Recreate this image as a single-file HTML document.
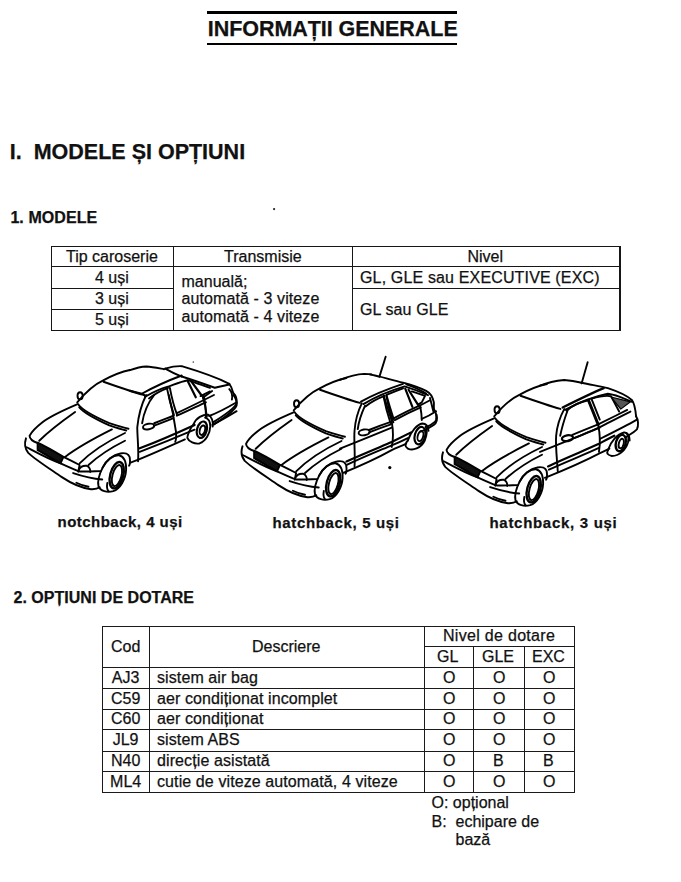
<!DOCTYPE html>
<html><head><meta charset="utf-8"><style>
html,body{margin:0;padding:0;background:#fff;}
body{width:681px;height:882px;position:relative;overflow:hidden;font-family:"Liberation Sans",sans-serif;color:#111;}
.t{position:absolute;white-space:nowrap;-webkit-text-stroke:0.25px #111;}
.l{position:absolute;}
svg.cars{position:absolute;left:0;top:0;}
</style></head><body>
<div class="l" style="left:206.80px;top:11.00px;width:250.70px;height:2.6px;background:#000"></div>
<div class="l" style="left:206.80px;top:42.60px;width:250.70px;height:2.6px;background:#000"></div>
<div class="t" style="left:207.80px;top:18.60px;font-size:21.5px;line-height:21.5px;font-weight:bold;letter-spacing:-0.05px;">INFORMAȚII GENERALE</div>
<div class="t" style="left:9.80px;top:142.40px;font-size:21.5px;line-height:21.5px;font-weight:bold;letter-spacing:0px;">I.&nbsp;&nbsp;MODELE ȘI OPȚIUNI</div>
<div class="t" style="left:10.40px;top:210.46px;font-size:16px;line-height:16px;font-weight:bold;letter-spacing:0.08px;">1. MODELE</div>
<div class="l" style="left:51.00px;top:246.00px;width:569.50px;height:1.2px;background:#161616"></div>
<div class="l" style="left:51.00px;top:266.00px;width:569.50px;height:1.2px;background:#161616"></div>
<div class="l" style="left:51.00px;top:288.00px;width:123.00px;height:1.2px;background:#161616"></div>
<div class="l" style="left:352.50px;top:288.20px;width:268.00px;height:1.2px;background:#161616"></div>
<div class="l" style="left:51.00px;top:309.30px;width:123.00px;height:1.2px;background:#161616"></div>
<div class="l" style="left:51.00px;top:329.60px;width:569.50px;height:1.4px;background:#161616"></div>
<div class="l" style="left:51.00px;top:246.00px;width:1.3px;height:84.50px;background:#161616"></div>
<div class="l" style="left:173.30px;top:246.00px;width:1.2px;height:84.50px;background:#161616"></div>
<div class="l" style="left:352.00px;top:246.00px;width:1.2px;height:84.50px;background:#161616"></div>
<div class="l" style="left:619.30px;top:246.00px;width:1.3px;height:84.50px;background:#161616"></div>
<div class="t" style="left:66.00px;top:248.56px;font-size:16px;line-height:16px;font-weight:normal;letter-spacing:0px;">Tip caroserie</div>
<div class="t" style="left:224.00px;top:248.56px;font-size:16px;line-height:16px;font-weight:normal;letter-spacing:0px;">Transmisie</div>
<div class="t" style="left:467.50px;top:248.56px;font-size:16px;line-height:16px;font-weight:normal;letter-spacing:0px;">Nivel</div>
<div class="t" style="left:95.00px;top:269.76px;font-size:16px;line-height:16px;font-weight:normal;letter-spacing:0px;">4 uși</div>
<div class="t" style="left:95.00px;top:290.76px;font-size:16px;line-height:16px;font-weight:normal;letter-spacing:0px;">3 uși</div>
<div class="t" style="left:95.00px;top:312.26px;font-size:16px;line-height:16px;font-weight:normal;letter-spacing:0px;">5 uși</div>
<div class="t" style="left:181.50px;top:273.66px;font-size:16px;line-height:16px;font-weight:normal;letter-spacing:0px;">manuală;</div>
<div class="t" style="left:181.50px;top:291.46px;font-size:16px;line-height:16px;font-weight:normal;letter-spacing:0.1px;">automată - 3 viteze</div>
<div class="t" style="left:181.50px;top:309.16px;font-size:16px;line-height:16px;font-weight:normal;letter-spacing:0.1px;">automată - 4 viteze</div>
<div class="t" style="left:360.00px;top:269.96px;font-size:16px;line-height:16px;font-weight:normal;letter-spacing:0.15px;">GL, GLE sau EXECUTIVE (EXC)</div>
<div class="t" style="left:360.00px;top:302.06px;font-size:16px;line-height:16px;font-weight:normal;letter-spacing:0.1px;">GL sau GLE</div>
<div class="t" style="left:57.50px;top:513.90px;font-size:15px;line-height:15px;font-weight:bold;letter-spacing:0.48px;">notchback, 4 uși</div>
<div class="t" style="left:272.50px;top:514.60px;font-size:15px;line-height:15px;font-weight:bold;letter-spacing:0.65px;">hatchback, 5 uși</div>
<div class="t" style="left:489.50px;top:514.60px;font-size:15px;line-height:15px;font-weight:bold;letter-spacing:0.7px;">hatchback, 3 uși</div>
<div class="t" style="left:13.50px;top:590.46px;font-size:16px;line-height:16px;font-weight:bold;letter-spacing:0.02px;">2. OPȚIUNI DE DOTARE</div>
<div class="l" style="left:101.50px;top:625.50px;width:473.00px;height:1.2px;background:#1a1a1a"></div>
<div class="l" style="left:423.80px;top:646.00px;width:150.70px;height:1.2px;background:#1a1a1a"></div>
<div class="l" style="left:101.50px;top:666.50px;width:473.00px;height:1.2px;background:#1a1a1a"></div>
<div class="l" style="left:101.50px;top:687.50px;width:473.00px;height:1.2px;background:#1a1a1a"></div>
<div class="l" style="left:101.50px;top:708.50px;width:473.00px;height:1.2px;background:#1a1a1a"></div>
<div class="l" style="left:101.50px;top:729.30px;width:473.00px;height:1.2px;background:#1a1a1a"></div>
<div class="l" style="left:101.50px;top:750.50px;width:473.00px;height:1.2px;background:#1a1a1a"></div>
<div class="l" style="left:101.50px;top:771.30px;width:473.00px;height:1.2px;background:#1a1a1a"></div>
<div class="l" style="left:101.50px;top:791.50px;width:473.00px;height:1.3px;background:#1a1a1a"></div>
<div class="l" style="left:101.50px;top:625.50px;width:1.2px;height:167.00px;background:#1a1a1a"></div>
<div class="l" style="left:148.50px;top:625.50px;width:1.2px;height:167.00px;background:#1a1a1a"></div>
<div class="l" style="left:423.50px;top:625.50px;width:1.2px;height:167.00px;background:#1a1a1a"></div>
<div class="l" style="left:473.30px;top:646.00px;width:1.2px;height:146.50px;background:#1a1a1a"></div>
<div class="l" style="left:523.50px;top:646.00px;width:1.2px;height:146.50px;background:#1a1a1a"></div>
<div class="l" style="left:573.70px;top:625.50px;width:1.2px;height:167.00px;background:#1a1a1a"></div>
<div class="t" style="left:111.00px;top:638.76px;font-size:16px;line-height:16px;font-weight:normal;letter-spacing:0px;">Cod</div>
<div class="t" style="left:252.00px;top:638.76px;font-size:16px;line-height:16px;font-weight:normal;letter-spacing:0px;">Descriere</div>
<div class="t" style="left:443.00px;top:628.46px;font-size:16px;line-height:16px;font-weight:normal;letter-spacing:0.3px;">Nivel de dotare</div>
<div class="t" style="left:437.00px;top:648.76px;font-size:16px;line-height:16px;font-weight:normal;letter-spacing:0px;">GL</div>
<div class="t" style="left:482.00px;top:648.76px;font-size:16px;line-height:16px;font-weight:normal;letter-spacing:0px;">GLE</div>
<div class="t" style="left:532.00px;top:648.76px;font-size:16px;line-height:16px;font-weight:normal;letter-spacing:0px;">EXC</div>
<div class="t" style="left:-74.40px;width:400px;text-align:center;top:669.76px;font-size:16px;line-height:16px;font-weight:normal;letter-spacing:0px;">AJ3</div>
<div class="t" style="left:157.00px;top:669.76px;font-size:16px;line-height:16px;font-weight:normal;letter-spacing:0.1px;">sistem air bag</div>
<div class="t" style="left:443.00px;top:669.76px;font-size:16px;line-height:16px;font-weight:normal;letter-spacing:0px;">O</div>
<div class="t" style="left:493.00px;top:669.76px;font-size:16px;line-height:16px;font-weight:normal;letter-spacing:0px;">O</div>
<div class="t" style="left:543.00px;top:669.76px;font-size:16px;line-height:16px;font-weight:normal;letter-spacing:0px;">O</div>
<div class="t" style="left:-74.40px;width:400px;text-align:center;top:690.62px;font-size:16px;line-height:16px;font-weight:normal;letter-spacing:0px;">C59</div>
<div class="t" style="left:157.00px;top:690.62px;font-size:16px;line-height:16px;font-weight:normal;letter-spacing:0.1px;">aer condiționat incomplet</div>
<div class="t" style="left:443.00px;top:690.62px;font-size:16px;line-height:16px;font-weight:normal;letter-spacing:0px;">O</div>
<div class="t" style="left:493.00px;top:690.62px;font-size:16px;line-height:16px;font-weight:normal;letter-spacing:0px;">O</div>
<div class="t" style="left:543.00px;top:690.62px;font-size:16px;line-height:16px;font-weight:normal;letter-spacing:0px;">O</div>
<div class="t" style="left:-74.40px;width:400px;text-align:center;top:711.48px;font-size:16px;line-height:16px;font-weight:normal;letter-spacing:0px;">C60</div>
<div class="t" style="left:157.00px;top:711.48px;font-size:16px;line-height:16px;font-weight:normal;letter-spacing:0.1px;">aer condiționat</div>
<div class="t" style="left:443.00px;top:711.48px;font-size:16px;line-height:16px;font-weight:normal;letter-spacing:0px;">O</div>
<div class="t" style="left:493.00px;top:711.48px;font-size:16px;line-height:16px;font-weight:normal;letter-spacing:0px;">O</div>
<div class="t" style="left:543.00px;top:711.48px;font-size:16px;line-height:16px;font-weight:normal;letter-spacing:0px;">O</div>
<div class="t" style="left:-74.40px;width:400px;text-align:center;top:732.34px;font-size:16px;line-height:16px;font-weight:normal;letter-spacing:0px;">JL9</div>
<div class="t" style="left:157.00px;top:732.34px;font-size:16px;line-height:16px;font-weight:normal;letter-spacing:0.1px;">sistem ABS</div>
<div class="t" style="left:443.00px;top:732.34px;font-size:16px;line-height:16px;font-weight:normal;letter-spacing:0px;">O</div>
<div class="t" style="left:493.00px;top:732.34px;font-size:16px;line-height:16px;font-weight:normal;letter-spacing:0px;">O</div>
<div class="t" style="left:543.00px;top:732.34px;font-size:16px;line-height:16px;font-weight:normal;letter-spacing:0px;">O</div>
<div class="t" style="left:-74.40px;width:400px;text-align:center;top:753.20px;font-size:16px;line-height:16px;font-weight:normal;letter-spacing:0px;">N40</div>
<div class="t" style="left:157.00px;top:753.20px;font-size:16px;line-height:16px;font-weight:normal;letter-spacing:0.1px;">direcție asistată</div>
<div class="t" style="left:443.00px;top:753.20px;font-size:16px;line-height:16px;font-weight:normal;letter-spacing:0px;">O</div>
<div class="t" style="left:493.00px;top:753.20px;font-size:16px;line-height:16px;font-weight:normal;letter-spacing:0px;">B</div>
<div class="t" style="left:543.00px;top:753.20px;font-size:16px;line-height:16px;font-weight:normal;letter-spacing:0px;">B</div>
<div class="t" style="left:-74.40px;width:400px;text-align:center;top:774.06px;font-size:16px;line-height:16px;font-weight:normal;letter-spacing:0px;">ML4</div>
<div class="t" style="left:157.00px;top:774.06px;font-size:16px;line-height:16px;font-weight:normal;letter-spacing:0.1px;">cutie de viteze automată, 4 viteze</div>
<div class="t" style="left:443.00px;top:774.06px;font-size:16px;line-height:16px;font-weight:normal;letter-spacing:0px;">O</div>
<div class="t" style="left:493.00px;top:774.06px;font-size:16px;line-height:16px;font-weight:normal;letter-spacing:0px;">O</div>
<div class="t" style="left:543.00px;top:774.06px;font-size:16px;line-height:16px;font-weight:normal;letter-spacing:0px;">O</div>
<div class="t" style="left:431.50px;top:795.26px;font-size:16px;line-height:16px;font-weight:normal;letter-spacing:0px;">O: opțional</div>
<div class="t" style="left:431.50px;top:813.86px;font-size:16px;line-height:16px;font-weight:normal;letter-spacing:0px;">B:&nbsp;&nbsp;echipare de</div>
<div class="t" style="left:455.50px;top:831.66px;font-size:16px;line-height:16px;font-weight:normal;letter-spacing:0px;">bază</div>
<svg class="cars" width="681" height="882" viewBox="0 0 681 882" fill="none" stroke="#000" stroke-width="1.9" stroke-linecap="round" stroke-linejoin="round">
<!-- car1 A: zoom [15,360,125,500] s=6.1909 -->
<g transform="translate(15,360) scale(0.16153)">
<ellipse vector-effect="non-scaling-stroke" cx="403" cy="222" rx="16" ry="22"/>
<path vector-effect="non-scaling-stroke" d="M384,274 C300,310 220,345 170,385 C125,420 100,448 90,470 C92,492 112,505 140,514"/>
<path vector-effect="non-scaling-stroke" d="M68,485 C58,515 62,550 82,575 C130,620 210,670 290,725 C350,765 410,792 470,800 C500,802 515,795 525,788"/>
<path vector-effect="non-scaling-stroke" d="M372,322 C290,380 200,450 150,500"/>
<path vector-effect="non-scaling-stroke" d="M600,430 C500,480 390,540 310,600"/>
<path vector-effect="non-scaling-stroke" d="M681,452 C580,500 470,570 400,640"/>
<path vector-effect="non-scaling-stroke" d="M681,500 C590,545 510,600 455,650"/>
<path vector-effect="non-scaling-stroke" d="M140,512 C200,540 250,570 300,600 L282,640 C230,610 180,580 140,558 Z" fill="#111"/>
<path vector-effect="non-scaling-stroke" d="M72,540 C120,565 200,610 282,640 C330,662 370,680 400,690 C440,692 470,690 530,688"/>
<path vector-effect="non-scaling-stroke" d="M300,600 C330,615 370,635 400,650 L392,690"/>
<path vector-effect="non-scaling-stroke" d="M392,690 C395,665 420,652 445,655 C460,660 468,680 466,693"/>
<path vector-effect="non-scaling-stroke" d="M360,700 C420,720 480,735 540,740"/>
<path vector-effect="non-scaling-stroke" d="M380,760 C400,770 430,780 455,785"/>
</g>
<!-- car1 M: zoom [80,360,180,440] s=6.81 -->
<g transform="translate(80,360) scale(0.14684)">
<path vector-effect="non-scaling-stroke" d="M-19,288 C30,230 100,165 155,140 C220,105 280,80 340,68"/>
<path vector-effect="non-scaling-stroke" d="M160,148 C250,180 350,215 432,238"/>
<path vector-effect="non-scaling-stroke" d="M-14,300 C10,335 60,370 200,430 C260,450 300,462 330,468"/>
<path vector-effect="non-scaling-stroke" d="M-5,322 C20,352 80,390 200,445 C250,462 290,474 315,480"/>
<path vector-effect="non-scaling-stroke" d="M470,262 C510,230 560,205 600,190"/>
<path vector-effect="non-scaling-stroke" d="M592,192 C605,260 625,330 640,375"/>
<path vector-effect="non-scaling-stroke" d="M612,190 C625,260 645,330 660,370"/>
</g>
<!-- car1 Z: zoom [130,362,210,402] s=8.5125 -->
<g transform="translate(130,362) scale(0.11747)">
<path vector-effect="non-scaling-stroke" d="M0,70 C40,55 90,40 140,38 C190,40 240,52 290,62"/>
<path vector-effect="non-scaling-stroke" d="M100,270 C200,215 320,160 440,115"/>
<path vector-effect="non-scaling-stroke" d="M130,295 C200,255 270,225 330,208 C380,190 440,165 490,155 C550,175 620,200 681,220"/>
<path vector-effect="non-scaling-stroke" d="M0,245 L100,270 C115,275 130,285 130,295"/>
<path vector-effect="non-scaling-stroke" d="M490,160 L560,300" stroke-width="2.2"/>
<path vector-effect="non-scaling-stroke" d="M520,162 L610,285" stroke-width="2.2"/>
<path vector-effect="non-scaling-stroke" d="M600,290 L681,250"/>
</g>
<!-- car1 T: zoom [150,360,240,430] s=7.567 -->
<g transform="translate(150,360) scale(0.13216)">
<path vector-effect="non-scaling-stroke" d="M115,65 C150,55 200,45 240,47 C350,80 500,130 600,180"/>
<path vector-effect="non-scaling-stroke" d="M115,65 C150,85 200,110 240,125"/>
<path vector-effect="non-scaling-stroke" d="M240,125 C320,150 420,185 490,210 L600,185"/>
<path vector-effect="non-scaling-stroke" d="M600,180 C615,200 625,230 630,250 C650,270 660,300 655,330 C640,360 560,420 480,470"/>
<path vector-effect="non-scaling-stroke" d="M600,220 C620,240 625,270 620,300"/>
<path vector-effect="non-scaling-stroke" d="M470,235 L400,285"/>
<path vector-effect="non-scaling-stroke" d="M400,280 C415,330 425,380 430,430"/>
</g>
<!-- car1 L: zoom [130,395,240,475] s=6.19 -->
<g transform="translate(130,395) scale(0.16153)">
<path vector-effect="non-scaling-stroke" d="M100,0 C70,60 50,150 45,200 C45,260 55,330 50,410"/>
<path vector-effect="non-scaling-stroke" d="M150,0 C110,50 85,110 75,175"/>
<ellipse vector-effect="non-scaling-stroke" cx="115" cy="195" rx="35" ry="17" transform="rotate(-10 115 195)"/>
<path vector-effect="non-scaling-stroke" d="M150,175 C200,155 240,140 265,130" stroke-width="2"/>
<path vector-effect="non-scaling-stroke" d="M290,112 C380,70 450,35 520,0"/>
<path vector-effect="non-scaling-stroke" d="M150,190 C200,170 240,155 265,145"/>
<path vector-effect="non-scaling-stroke" d="M290,128 C380,88 430,62 470,45"/>
<path vector-effect="non-scaling-stroke" d="M240,0 C255,60 270,120 285,230 C287,260 285,280 280,290"/>
<path vector-effect="non-scaling-stroke" d="M455,0 C465,40 470,90 470,140"/>
<path vector-effect="non-scaling-stroke" d="M60,330 C150,295 280,240 400,185" stroke-width="2.2"/>
<path vector-effect="non-scaling-stroke" d="M60,352 C150,318 290,262 400,215"/>
<path vector-effect="non-scaling-stroke" d="M0,420 C60,400 150,360 340,275"/>
<path vector-effect="non-scaling-stroke" d="M490,130 C530,115 600,80 660,45"/>
<path vector-effect="non-scaling-stroke" d="M510,185 C560,160 610,130 660,100"/>
<path vector-effect="non-scaling-stroke" d="M640,0 C655,20 662,45 660,65 C650,90 620,115 520,182"/>
<path vector-effect="non-scaling-stroke" d="M395,178 C410,140 450,120 485,122 C505,135 515,165 512,195"/>
<path vector-effect="non-scaling-stroke" d="M395,178 C370,210 355,250 355,265 C365,290 400,305 430,300 C470,285 495,240 497,195 C497,160 485,145 465,140"/>
<ellipse vector-effect="non-scaling-stroke" cx="445" cy="215" rx="30" ry="52" transform="rotate(15 445 215)" stroke-width="2.2"/>
<ellipse vector-effect="non-scaling-stroke" cx="448" cy="218" rx="16" ry="30" transform="rotate(15 448 218)"/>
</g>
<!-- car1 W: zoom [85,430,165,500] s=8.5125 -->
<g transform="translate(85,430) scale(0.11747)">
<path vector-effect="non-scaling-stroke" d="M150,320 C120,380 105,440 115,480 C130,520 190,535 240,520 C300,500 345,420 350,340 C352,270 330,225 290,215 C240,210 180,260 150,320"/>
<ellipse vector-effect="non-scaling-stroke" cx="270" cy="385" rx="55" ry="115" transform="rotate(15 270 385)" stroke-width="2.4"/>
<ellipse vector-effect="non-scaling-stroke" cx="272" cy="388" rx="38" ry="92" transform="rotate(15 272 388)"/>
<path vector-effect="non-scaling-stroke" d="M190,450 C185,480 190,510 200,520"/>
<path vector-effect="non-scaling-stroke" d="M150,320 C180,260 240,210 300,200 C340,190 370,205 380,230 C385,260 385,290 375,305"/>
</g>
<!-- car2 A from car1 -->
<g transform="translate(231.5,368.0) scale(0.16153)">
<ellipse vector-effect="non-scaling-stroke" cx="403" cy="222" rx="16" ry="22"/>
<path vector-effect="non-scaling-stroke" d="M384,274 C300,310 220,345 170,385 C125,420 100,448 90,470 C92,492 112,505 140,514"/>
<path vector-effect="non-scaling-stroke" d="M68,485 C58,515 62,550 82,575 C130,620 210,670 290,725 C350,765 410,792 470,800 C500,802 515,795 525,788"/>
<path vector-effect="non-scaling-stroke" d="M372,322 C290,380 200,450 150,500"/>
<path vector-effect="non-scaling-stroke" d="M600,430 C500,480 390,540 310,600"/>
<path vector-effect="non-scaling-stroke" d="M681,452 C580,500 470,570 400,640"/>
<path vector-effect="non-scaling-stroke" d="M681,500 C590,545 510,600 455,650"/>
<path vector-effect="non-scaling-stroke" d="M140,512 C200,540 250,570 300,600 L282,640 C230,610 180,580 140,558 Z" fill="#111"/>
<path vector-effect="non-scaling-stroke" d="M72,540 C120,565 200,610 282,640 C330,662 370,680 400,690 C440,692 470,690 530,688"/>
<path vector-effect="non-scaling-stroke" d="M300,600 C330,615 370,635 400,650 L392,690"/>
<path vector-effect="non-scaling-stroke" d="M392,690 C395,665 420,652 445,655 C460,660 468,680 466,693"/>
<path vector-effect="non-scaling-stroke" d="M360,700 C420,720 480,735 540,740"/>
<path vector-effect="non-scaling-stroke" d="M380,760 C400,770 430,780 455,785"/>
</g>
<!-- car2 M from car1 -->
<g transform="translate(296.5,368.0) scale(0.14684)">
<path vector-effect="non-scaling-stroke" d="M-19,288 C30,230 100,165 155,140 C220,105 280,80 340,68"/>
<path vector-effect="non-scaling-stroke" d="M160,148 C250,180 350,215 432,238"/>
<path vector-effect="non-scaling-stroke" d="M-14,300 C10,335 60,370 200,430 C260,450 300,462 330,468"/>
<path vector-effect="non-scaling-stroke" d="M-5,322 C20,352 80,390 200,445 C250,462 290,474 315,480"/>
<path vector-effect="non-scaling-stroke" d="M470,262 C510,230 560,205 600,190"/>
<path vector-effect="non-scaling-stroke" d="M592,192 C605,260 625,330 640,375"/>
<path vector-effect="non-scaling-stroke" d="M612,190 C625,260 645,330 660,370"/>
</g>
<!-- car2 W from car1 -->
<g transform="translate(301.5,438.0) scale(0.11747)">
<path vector-effect="non-scaling-stroke" d="M150,320 C120,380 105,440 115,480 C130,520 190,535 240,520 C300,500 345,420 350,340 C352,270 330,225 290,215 C240,210 180,260 150,320"/>
<ellipse vector-effect="non-scaling-stroke" cx="270" cy="385" rx="55" ry="115" transform="rotate(15 270 385)" stroke-width="2.4"/>
<ellipse vector-effect="non-scaling-stroke" cx="272" cy="388" rx="38" ry="92" transform="rotate(15 272 388)"/>
<path vector-effect="non-scaling-stroke" d="M190,450 C185,480 190,510 200,520"/>
<path vector-effect="non-scaling-stroke" d="M150,320 C180,260 240,210 300,200 C340,190 370,205 380,230 C385,260 385,290 375,305"/>
</g>
<!-- car2 R2: zoom [340,350,450,490] s=6.19 -->
<g transform="translate(340,350) scale(0.16153)">
<path vector-effect="non-scaling-stroke" d="M0,185 C50,165 100,150 150,148 C170,149 185,150 195,152"/>
<path vector-effect="non-scaling-stroke" d="M130,320 C200,280 300,240 390,210"/>
<path vector-effect="non-scaling-stroke" d="M145,335 C210,295 300,255 400,225 C450,240 500,260 545,280"/>
<path vector-effect="non-scaling-stroke" d="M135,330 C110,380 95,430 90,500 C85,560 95,640 90,720"/>
<path vector-effect="non-scaling-stroke" d="M155,345 C130,400 115,450 110,490"/>
<ellipse vector-effect="non-scaling-stroke" cx="150" cy="510" rx="35" ry="18" transform="rotate(-10 150 510)"/>
<path vector-effect="non-scaling-stroke" d="M320,440 C330,500 330,560 320,600"/>
<path vector-effect="non-scaling-stroke" d="M180,495 C230,475 270,460 315,445" stroke-width="2"/>
<path vector-effect="non-scaling-stroke" d="M180,510 C230,490 270,475 315,460"/>
<path vector-effect="non-scaling-stroke" d="M0,610 C100,570 200,530 320,480"/>
<path vector-effect="non-scaling-stroke" d="M40,690 C150,640 250,600 320,570 C380,540 420,520 440,510" stroke-width="2.2"/>
<path vector-effect="non-scaling-stroke" d="M45,710 C150,660 250,620 320,590 C370,570 400,555 420,545"/>
<path vector-effect="non-scaling-stroke" d="M20,760 C120,720 230,670 320,620 C350,605 380,595 410,580"/>
<path vector-effect="non-scaling-stroke" d="M420,560 C440,500 480,460 510,455 C530,455 545,470 548,500"/>
<path vector-effect="non-scaling-stroke" d="M420,560 C400,580 400,600 420,610 C450,625 500,610 525,560 C540,520 540,490 530,475"/>
<ellipse vector-effect="non-scaling-stroke" cx="495" cy="530" rx="32" ry="55" transform="rotate(15 495 530)" stroke-width="2.2"/>
<ellipse vector-effect="non-scaling-stroke" cx="498" cy="533" rx="17" ry="32" transform="rotate(15 498 533)"/>
<path vector-effect="non-scaling-stroke" d="M598,400 C605,430 600,450 580,465 C560,480 530,495 500,505"/>
</g>
<!-- car2 R2b: zoom [370,365,445,440] s=9.08 -->
<g transform="translate(370,365) scale(0.11013)">
<path vector-effect="non-scaling-stroke" d="M85,108 L142,-75"/>
<circle cx="88" cy="105" r="6" fill="#111"/>
<path vector-effect="non-scaling-stroke" d="M0,85 C30,90 60,100 90,105 C150,120 230,145 300,160 C380,180 450,205 510,235 C550,255 570,290 580,340 L580,400"/>
<path vector-effect="non-scaling-stroke" d="M330,175 C400,200 460,225 510,260"/>
<path vector-effect="non-scaling-stroke" d="M125,280 C150,360 175,440 195,500"/>
<path vector-effect="non-scaling-stroke" d="M150,275 C170,350 195,430 215,490"/>
<path vector-effect="non-scaling-stroke" d="M150,272 C200,250 250,230 300,212"/>
<path vector-effect="non-scaling-stroke" d="M320,215 L385,380" stroke-width="2.2"/>
<path vector-effect="non-scaling-stroke" d="M350,225 L435,360" stroke-width="2.2"/>
<path vector-effect="non-scaling-stroke" d="M380,240 L500,280 L470,340 L435,360"/>
<path vector-effect="non-scaling-stroke" d="M215,485 C300,440 380,400 450,370 L545,320"/>
<path vector-effect="non-scaling-stroke" d="M225,500 C300,460 380,420 460,385"/>
<path vector-effect="non-scaling-stroke" d="M545,300 C555,340 565,380 575,420"/>
<path vector-effect="non-scaling-stroke" d="M580,400 C600,420 605,470 600,500 C590,520 560,540 520,560"/>
<path vector-effect="non-scaling-stroke" d="M455,370 C465,420 470,470 470,500"/>
<path vector-effect="non-scaling-stroke" d="M470,490 C520,470 570,440 600,420"/>
</g>
<!-- car3 A from car1 -->
<g transform="translate(432.0,374.0) scale(0.16153)">
<ellipse vector-effect="non-scaling-stroke" cx="403" cy="222" rx="16" ry="22"/>
<path vector-effect="non-scaling-stroke" d="M384,274 C300,310 220,345 170,385 C125,420 100,448 90,470 C92,492 112,505 140,514"/>
<path vector-effect="non-scaling-stroke" d="M68,485 C58,515 62,550 82,575 C130,620 210,670 290,725 C350,765 410,792 470,800 C500,802 515,795 525,788"/>
<path vector-effect="non-scaling-stroke" d="M372,322 C290,380 200,450 150,500"/>
<path vector-effect="non-scaling-stroke" d="M600,430 C500,480 390,540 310,600"/>
<path vector-effect="non-scaling-stroke" d="M681,452 C580,500 470,570 400,640"/>
<path vector-effect="non-scaling-stroke" d="M681,500 C590,545 510,600 455,650"/>
<path vector-effect="non-scaling-stroke" d="M140,512 C200,540 250,570 300,600 L282,640 C230,610 180,580 140,558 Z" fill="#111"/>
<path vector-effect="non-scaling-stroke" d="M72,540 C120,565 200,610 282,640 C330,662 370,680 400,690 C440,692 470,690 530,688"/>
<path vector-effect="non-scaling-stroke" d="M300,600 C330,615 370,635 400,650 L392,690"/>
<path vector-effect="non-scaling-stroke" d="M392,690 C395,665 420,652 445,655 C460,660 468,680 466,693"/>
<path vector-effect="non-scaling-stroke" d="M360,700 C420,720 480,735 540,740"/>
<path vector-effect="non-scaling-stroke" d="M380,760 C400,770 430,780 455,785"/>
</g>
<!-- car3 M from car1 -->
<g transform="translate(497.0,374.0) scale(0.14684)">
<path vector-effect="non-scaling-stroke" d="M-19,288 C30,230 100,165 155,140 C220,105 280,80 340,68"/>
<path vector-effect="non-scaling-stroke" d="M160,148 C250,180 350,215 432,238"/>
<path vector-effect="non-scaling-stroke" d="M-14,300 C10,335 60,370 200,430 C260,450 300,462 330,468"/>
<path vector-effect="non-scaling-stroke" d="M-5,322 C20,352 80,390 200,445 C250,462 290,474 315,480"/>
</g>
<!-- car3 W from car1 -->
<g transform="translate(502.0,444.0) scale(0.11747)">
<path vector-effect="non-scaling-stroke" d="M150,320 C120,380 105,440 115,480 C130,520 190,535 240,520 C300,500 345,420 350,340 C352,270 330,225 290,215 C240,210 180,260 150,320"/>
<ellipse vector-effect="non-scaling-stroke" cx="270" cy="385" rx="55" ry="115" transform="rotate(15 270 385)" stroke-width="2.4"/>
<ellipse vector-effect="non-scaling-stroke" cx="272" cy="388" rx="38" ry="92" transform="rotate(15 272 388)"/>
<path vector-effect="non-scaling-stroke" d="M190,450 C185,480 190,510 200,520"/>
<path vector-effect="non-scaling-stroke" d="M150,320 C180,260 240,210 300,200 C340,190 370,205 380,230 C385,260 385,290 375,305"/>
</g>
<!-- car3 R3: zoom [540,355,650,495] s=6.19 -->
<g transform="translate(540,355) scale(0.16153)">
<path vector-effect="non-scaling-stroke" d="M258,175 L295,45"/>
<circle cx="258" cy="173" r="6" fill="#111"/>
<path vector-effect="non-scaling-stroke" d="M0,190 C50,170 100,160 150,155 C200,158 230,165 258,172 C320,185 380,195 420,205 C480,225 540,250 570,280 C585,300 590,330 595,380"/>
<path vector-effect="non-scaling-stroke" d="M140,325 C220,285 310,240 395,205" stroke-width="2.2"/>
<path vector-effect="non-scaling-stroke" d="M155,340 C230,300 320,260 420,240 C470,245 520,270 570,290"/>
<path vector-effect="non-scaling-stroke" d="M150,335 C120,390 105,440 100,500 C95,560 105,640 110,720"/>
<path vector-effect="non-scaling-stroke" d="M170,345 C150,400 135,450 125,500"/>
<ellipse vector-effect="non-scaling-stroke" cx="170" cy="515" rx="35" ry="18" transform="rotate(-10 170 515)" stroke-width="2.2"/>
<path vector-effect="non-scaling-stroke" d="M165,345 C200,310 250,290 300,280"/>
<path vector-effect="non-scaling-stroke" d="M300,280 L360,430" stroke-width="3"/>
<path vector-effect="non-scaling-stroke" d="M320,275 L370,400"/>
<path vector-effect="non-scaling-stroke" d="M200,495 C260,470 310,450 360,430 C420,400 480,370 540,340"/>
<path vector-effect="non-scaling-stroke" d="M210,515 C270,490 320,470 365,450 C420,420 480,390 560,350"/>
<path vector-effect="non-scaling-stroke" d="M320,270 C370,255 410,250 440,255 L490,350"/>
<path vector-effect="non-scaling-stroke" d="M440,260 L560,290 L500,335 Z" fill="#555" stroke-width="1.2"/>
<path vector-effect="non-scaling-stroke" d="M360,430 C370,480 375,540 365,600"/>
<path vector-effect="non-scaling-stroke" d="M0,600 C100,560 250,500 370,450"/>
<path vector-effect="non-scaling-stroke" d="M50,690 C150,640 280,590 365,550 C400,530 430,515 460,500" stroke-width="2.2"/>
<path vector-effect="non-scaling-stroke" d="M55,710 C150,665 280,615 365,575"/>
<path vector-effect="non-scaling-stroke" d="M30,760 C130,720 250,670 365,610 C390,600 410,590 430,580"/>
<path vector-effect="non-scaling-stroke" d="M370,520 C450,480 530,440 600,400"/>
<path vector-effect="non-scaling-stroke" d="M595,380 C610,400 610,440 600,460 C580,480 560,490 530,510"/>
<path vector-effect="non-scaling-stroke" d="M420,590 C440,530 480,490 520,480 C545,478 555,500 555,530"/>
<path vector-effect="non-scaling-stroke" d="M420,590 C410,610 420,620 445,625 C490,625 530,590 545,540 C550,510 545,490 535,485"/>
<ellipse vector-effect="non-scaling-stroke" cx="500" cy="545" rx="30" ry="52" transform="rotate(15 500 545)" stroke-width="2.4"/>
<ellipse vector-effect="non-scaling-stroke" cx="503" cy="548" rx="15" ry="30" transform="rotate(15 503 548)"/>
</g>

<circle cx="389.8" cy="467.6" r="1.6" fill="#000" stroke="none"/><circle cx="274.1" cy="209.1" r="1.1" fill="#222" stroke="none"/><circle cx="193.3" cy="362.1" r="0.8" fill="#444" stroke="none"/>
</svg>
</body></html>
